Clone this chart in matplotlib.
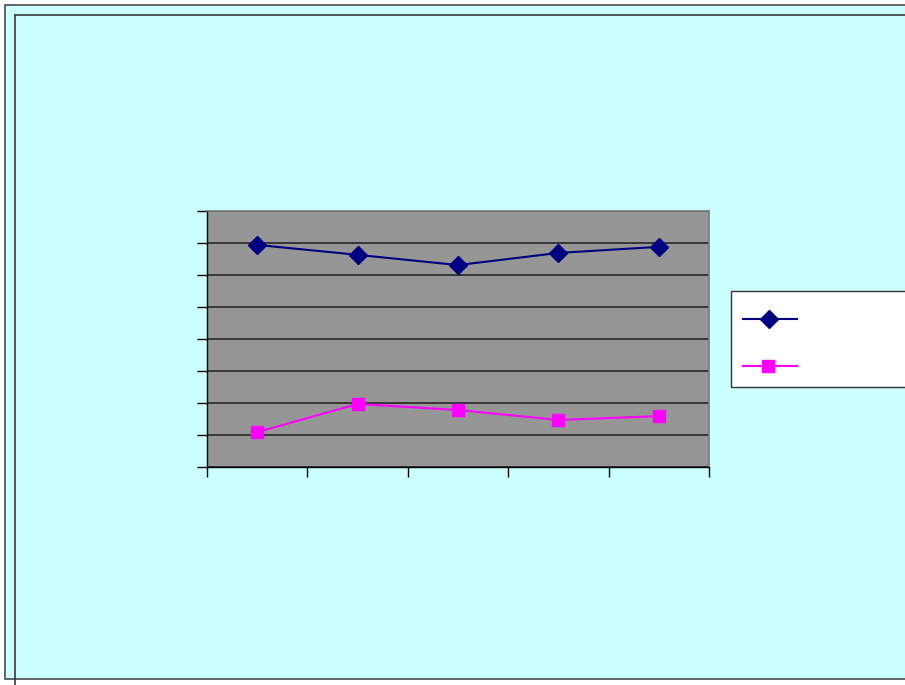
import matplotlib
matplotlib.use("Agg")
import matplotlib.pyplot as plt
from matplotlib.patches import Rectangle
from matplotlib.lines import Line2D

# Data
categories = ["1", "2", "3", "4", "5"]
series_top = [6.94, 6.63, 6.31, 6.69, 6.88]
series_bottom = [1.09, 1.97, 1.78, 1.47, 1.59]
y_ticks = [0, 1, 2, 3, 4, 5, 6, 7, 8]

W, H = 905, 685
fig = plt.figure(figsize=(W / 100, H / 100), dpi=100)
fig.patch.set_facecolor("white")

# Pixel-space background layer (slide frame)
bg = fig.add_axes([0, 0, 1, 1], zorder=0)
bg.set_xlim(0, W)
bg.set_ylim(H, 0)
bg.axis("off")
bg.add_patch(Rectangle((5, 4.5), 1000, 674.5, facecolor="#CCFFFF",
                       edgecolor="#4a4a4a", linewidth=1.2))
bg.plot([15, W + 5], [15, 15], color="#3a3a3a", linewidth=1.2)
bg.plot([15, 15], [15, H + 5], color="#3a3a3a", linewidth=1.2)

# Plot area
left, right, top, bottom = 207, 709, 211, 467
ax = fig.add_axes([left / W, (H - bottom) / H, (right - left) / W, (bottom - top) / H],
                  zorder=2)
ax.set_facecolor("#969696")
x = list(range(len(categories)))
ax.plot(x, series_top, color="#000080", marker="D", markersize=9,
        linewidth=1.5, zorder=3)
ax.plot(x, series_bottom, color="#FF00FF", marker="s", markersize=8.5,
        linewidth=1.5, zorder=3)
ax.set_xlim(-0.5, len(categories) - 0.5)
ax.set_ylim(y_ticks[0], y_ticks[-1])
ax.set_yticks(y_ticks)
ax.set_xticks([i - 0.5 for i in range(len(categories) + 1)])
ax.set_xticklabels([])
ax.set_yticklabels([])
ax.tick_params(axis="both", direction="out", length=7.2, width=1.0, color="black")
ax.yaxis.grid(True, color="#262626", linewidth=1.2)
ax.set_axisbelow(True)
for side in ("top", "right"):
    ax.spines[side].set_color("#7a7a7a")
    ax.spines[side].set_linewidth(1.2)
for side in ("left", "bottom"):
    ax.spines[side].set_color("black")
    ax.spines[side].set_linewidth(1.0)

# Legend box
lg = fig.add_axes([0, 0, 1, 1], zorder=3)
lg.set_xlim(0, W)
lg.set_ylim(H, 0)
lg.axis("off")
lg.add_patch(Rectangle((731, 291), 300, 96, facecolor="white",
                       edgecolor="#333333", linewidth=1.0))
lg.add_line(Line2D([743, 797], [319, 319], color="#000080", linewidth=1.5))
lg.add_line(Line2D([769], [319], color="#000080", marker="D", markersize=9))
lg.add_line(Line2D([743, 797], [366, 366], color="#FF00FF", linewidth=1.5))
lg.add_line(Line2D([768], [366], color="#FF00FF", marker="s", markersize=8.5))

fig.savefig("out.png", dpi=100, facecolor=fig.get_facecolor())
